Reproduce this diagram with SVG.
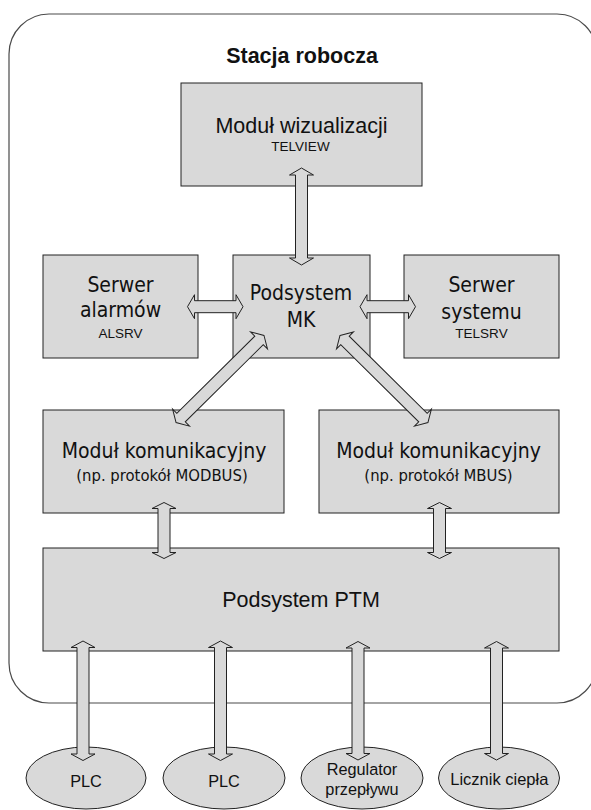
<svg xmlns="http://www.w3.org/2000/svg" width="591" height="810" viewBox="0 0 591 810">
<style>
.bg{fill:#ffffff}
.frame{fill:none;stroke:#4a4a4a;stroke-width:1.2}
.box{fill:#d9d9d9;stroke:#222;stroke-width:1}
.arr{fill:#d9d9d9;stroke:#222;stroke-width:1;stroke-linejoin:miter}
.t{fill:#111;text-anchor:middle}
.ar{font-family:"Liberation Sans",Arial,sans-serif}
.cd{font-family:"DejaVu Sans Condensed","DejaVu Sans",sans-serif;font-stretch:condensed}
.big{font-size:21.5px}
.sm{font-size:13.5px}
.md{font-size:16.5px}
</style>
<rect class="bg" x="0" y="0" width="591" height="810"/>
<g id="stacja">
<rect class="frame" x="9" y="14" width="588" height="689" rx="40" ry="40"/>
<text class="t ar" x="302" y="63" font-size="21.5" font-weight="bold">Stacja robocza</text>
</g>
<g id="modul-wizualizacji">
<rect class="box" x="181" y="83" width="241" height="103"/>
<text class="t ar big" x="301.5" y="133">Moduł wizualizacji</text>
<text class="t ar sm" x="300.5" y="151">TELVIEW</text>
</g>
<g id="serwer-alarmow">
<rect class="box" x="43" y="255" width="155" height="103"/>
<text class="t cd" font-size="21" x="120.5" y="292">Serwer</text>
<text class="t cd" font-size="21" x="120.5" y="317">alarmów</text>
<text class="t ar sm" x="120.5" y="338">ALSRV</text>
</g>
<g id="podsystem-mk">
<rect class="box" x="233" y="255" width="137" height="103"/>
<text class="t cd" font-size="21" x="301" y="300">Podsystem</text>
<text class="t cd" font-size="21" x="301" y="327">MK</text>
</g>
<g id="serwer-systemu">
<rect class="box" x="404" y="255" width="155" height="103"/>
<text class="t cd" font-size="21" x="481.5" y="292">Serwer</text>
<text class="t cd" font-size="21" x="481.5" y="319">systemu</text>
<text class="t ar sm" x="481.5" y="338">TELSRV</text>
</g>
<g id="modul-modbus">
<rect class="box" x="43" y="410" width="241" height="103"/>
<text class="t cd" font-size="21" x="164" y="458">Moduł komunikacyjny</text>
<text class="t cd md" x="162" y="481">(np. protokół MODBUS)</text>
</g>
<g id="modul-mbus">
<rect class="box" x="319" y="410" width="240" height="103"/>
<text class="t cd" font-size="21" x="438.5" y="458">Moduł komunikacyjny</text>
<text class="t cd md" x="438.5" y="481">(np. protokół MBUS)</text>
</g>
<g id="podsystem-ptm">
<rect class="box" x="43" y="548" width="516" height="103"/>
<text class="t ar big" x="301" y="606.5">Podsystem PTM</text>
</g>
<g id="plc1">
<ellipse class="box" cx="86" cy="778" rx="60" ry="31"/>
<text class="t ar" font-size="16.3" x="86" y="786.5">PLC</text>
</g>
<g id="plc2">
<ellipse class="box" cx="224" cy="778" rx="61" ry="31"/>
<text class="t ar" font-size="16.3" x="224" y="786.5">PLC</text>
</g>
<g id="regulator">
<ellipse class="box" cx="362" cy="778" rx="61" ry="31"/>
<text class="t ar" font-size="16.3" x="362" y="775">Regulator</text>
<text class="t ar" font-size="16.3" x="362" y="795">przepływu</text>
</g>
<g id="licznik">
<ellipse class="box" cx="499" cy="778" rx="60.5" ry="31"/>
<text class="t ar" font-size="16.5" x="499.3" y="785">Licznik ciepła</text>
</g>
<g id="connectors">
<!-- vertical double arrow template: M0,0 L12,7 L6,7 L6,L-7 L12,L-7 L0,L L-12,L-7 L-6,L-7 L-6,7 L-12,7 Z -->
<path class="arr" transform="translate(301.5,168)" d="M0,0 L12,7 L6,7 L6,90 L12,90 L0,97 L-12,90 L-6,90 L-6,7 L-12,7 Z"/>
<path class="arr" transform="translate(187.5,306.7) rotate(-90)" d="M0,0 L12,7 L6,7 L6,48.5 L12,48.5 L0,55.5 L-12,48.5 L-6,48.5 L-6,7 L-12,7 Z"/>
<path class="arr" transform="translate(360,306.7) rotate(-90)" d="M0,0 L12,7 L6,7 L6,48.5 L12,48.5 L0,55.5 L-12,48.5 L-6,48.5 L-6,7 L-12,7 Z"/>
<path class="arr" transform="translate(264,335.5) rotate(45.3)" d="M0,0 L12,7 L6,7 L6,116.7 L12,116.7 L0,123.7 L-12,116.7 L-6,116.7 L-6,7 L-12,7 Z"/>
<path class="arr" transform="translate(340,335.5) rotate(-45.3)" d="M0,0 L12,7 L6,7 L6,116.7 L12,116.7 L0,123.7 L-12,116.7 L-6,116.7 L-6,7 L-12,7 Z"/>
<path class="arr" transform="translate(164,502.5)" d="M0,0 L12,6 L6,6 L6,50 L12,50 L0,56 L-12,50 L-6,50 L-6,6 L-12,6 Z"/>
<path class="arr" transform="translate(439.5,502.5)" d="M0,0 L12,6 L6,6 L6,50 L12,50 L0,56 L-12,50 L-6,50 L-6,6 L-12,6 Z"/>
<path class="arr" transform="translate(83,641)" d="M0,0 L12,6.5 L6,6.5 L6,113 L12,113 L0,119.5 L-12,113 L-6,113 L-6,6.5 L-12,6.5 Z"/>
<path class="arr" transform="translate(220.5,641)" d="M0,0 L12,6.5 L6,6.5 L6,113 L12,113 L0,119.5 L-12,113 L-6,113 L-6,6.5 L-12,6.5 Z"/>
<path class="arr" transform="translate(358,641.5)" d="M0,0 L12,6.5 L6,6.5 L6,112 L12,112 L0,118.5 L-12,112 L-6,112 L-6,6.5 L-12,6.5 Z"/>
<path class="arr" transform="translate(496.5,641.5)" d="M0,0 L12,6.5 L6,6.5 L6,112 L12,112 L0,118.5 L-12,112 L-6,112 L-6,6.5 L-12,6.5 Z"/>
</g>
</svg>
